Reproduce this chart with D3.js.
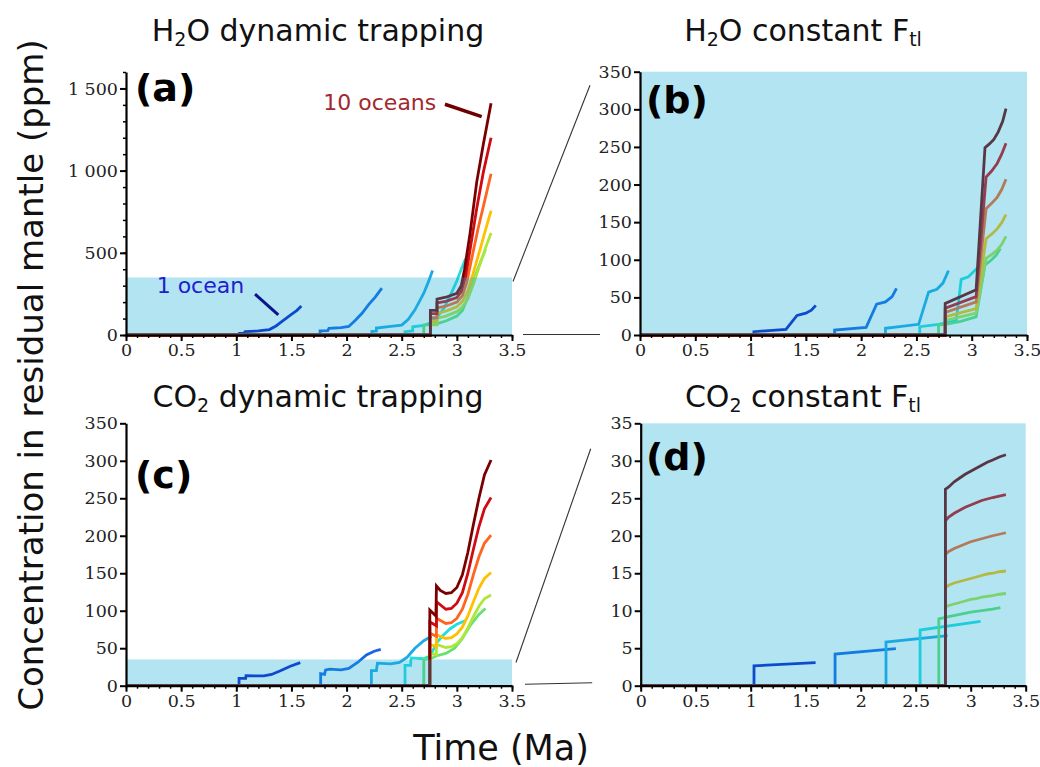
<!DOCTYPE html>
<html><head><meta charset="utf-8">
<script src="https://cdn.jsdelivr.net/npm/d3@7"></script>
<style>
body{margin:0;background:#fff;}
svg{display:block;}
</style></head><body>
<svg id="chart" width="1040" height="767"></svg>
<script>
// ---------------- DATA ----------------
const oceans = [1,2,3,4,5,6,7,8,9,10];
const xTicks = [0,0.5,1,1.5,2,2.5,3,3.5];
const yTicksH2ODyn = [0,500,1000,1500];
const yTicks350 = [0,50,100,150,200,250,300,350];
const yTicks35 = [0,5,10,15,20,25,30,35];
const zoomRangeH2O = 350;   // ppm range shown enlarged in (b)
const zoomRangeCO2 = 35;    // ppm range shown enlarged in (d)

// (a) H2O dynamic trapping: [time (Ma), ppm] per ocean count
const h2oDynamic = [
  [[0,0],[1.03,0],[1.03,10],[1.07,12],[1.08,20],[1.2,25],[1.3,33],[1.36,55],[1.43,90],[1.5,125],[1.55,150],[1.59,177]],
  [[0,0],[1.76,0],[1.76,25],[1.83,27],[1.84,40],[1.95,45],[2.02,52],[2.08,90],[2.14,132],[2.2,185],[2.26,230],[2.32,285]],
  [[0,0],[2.23,0],[2.23,22],[2.27,24],[2.27,42],[2.4,52],[2.5,60],[2.56,95],[2.62,153],[2.7,254],[2.74,320],[2.78,393]],
  [[0,0],[2.53,0],[2.53,20],[2.6,25],[2.6,50],[2.7,58],[2.76,75],[2.82,110],[2.88,160],[2.94,240],[3.0,330],[3.04,400],[3.08,465]],
  [[0,0],[2.70,0],[2.70,60],[2.8,65],[2.9,85],[3.0,115],[3.05,150],[3.1,230],[3.15,330],[3.2,420],[3.26,520]],
  [[0,0],[2.76,0],[2.76,62],[2.82,62],[2.82,102],[2.9,115],[3.0,142],[3.05,170],[3.1,220],[3.15,310],[3.21,430],[3.26,530],[3.31,621]],
  [[0,0],[2.76,0],[2.76,82],[2.82,82],[2.82,132],[2.9,145],[3.0,172],[3.05,205],[3.1,270],[3.15,380],[3.21,520],[3.26,640],[3.31,757]],
  [[0,0],[2.76,0],[2.76,105],[2.82,105],[2.82,165],[2.9,175],[3.0,200],[3.05,240],[3.09,320],[3.13,450],[3.19,640],[3.25,810],[3.31,981]],
  [[0,0],[2.76,0],[2.76,130],[2.82,130],[2.82,195],[2.9,205],[3.0,228],[3.04,265],[3.08,360],[3.12,520],[3.18,770],[3.24,990],[3.31,1200]],
  [[0,0],[2.76,0],[2.76,150],[2.82,150],[2.82,218],[2.9,230],[3.0,254],[3.04,300],[3.07,400],[3.12,620],[3.18,930],[3.24,1160],[3.31,1410]]
];

// (b) H2O constant F_tl
const h2oConstant = [
  [[0,0],[1.03,0],[1.03,4.4],[1.32,7.5],[1.42,26],[1.5,29],[1.55,33],[1.59,39.4]],
  [[0,0],[1.76,0],[1.76,6.6],[2.045,10.2],[2.14,41],[2.22,44],[2.28,51],[2.32,62]],
  [[0,0],[2.22,0],[2.22,8.9],[2.52,14.2],[2.61,57],[2.685,60.7],[2.74,69],[2.79,85.5]],
  [[0,0],[2.53,0],[2.53,11],[2.7,14],[2.86,19],[2.905,74],[2.97,77.5],[3.03,86],[3.08,93]],
  [[0,0],[2.70,0],[2.70,13],[2.76,14],[2.9,18],[3.04,24],[3.12,93],[3.18,100],[3.22,106],[3.26,115]],
  [[0,0],[2.76,0],[2.76,19],[3.04,29],[3.13,102],[3.18,107],[3.23,113],[3.27,120],[3.31,131]],
  [[0,0],[2.76,0],[2.76,24],[3.04,35],[3.13,128],[3.18,134],[3.23,141],[3.27,149],[3.31,160]],
  [[0,0],[2.76,0],[2.76,30],[3.04,44],[3.13,168],[3.18,175],[3.23,183],[3.27,193],[3.31,207]],
  [[0,0],[2.76,0],[2.76,35.5],[3.04,51],[3.13,210],[3.18,218],[3.23,228],[3.27,240],[3.31,255]],
  [[0,0],[2.76,0],[2.76,42],[3.04,60],[3.12,249],[3.16,254],[3.2,260],[3.24,270],[3.28,284],[3.31,301]]
];

// (c) CO2 dynamic trapping
const co2Dynamic = [
  [[0,0],[1.025,0],[1.025,9.8],[1.085,9.8],[1.088,13.4],[1.25,13],[1.32,15],[1.4,20],[1.49,26],[1.58,30.7]],
  [[0,0],[1.765,0],[1.765,16],[1.80,15],[1.81,21],[1.85,22],[1.95,21],[2.02,23],[2.1,31],[2.18,41],[2.25,46],[2.31,48.5]],
  [[0,0],[2.225,0],[2.225,20],[2.27,20],[2.28,30],[2.4,29],[2.48,31],[2.55,38],[2.62,50],[2.7,60],[2.77,66]],
  [[0,0],[2.53,0],[2.53,27],[2.58,27],[2.585,37],[2.7,36],[2.76,40],[2.82,58],[2.88,68],[2.94,76],[3.0,82],[3.08,87]],
  [[0,0],[2.70,0],[2.70,35],[2.76,36],[2.82,40],[2.9,43],[2.98,50],[3.05,63],[3.12,80],[3.2,95],[3.26,103]],
  [[0,0],[2.755,0],[2.755,43],[2.815,41],[2.815,55],[2.9,51],[2.95,52],[3.0,56],[3.05,64],[3.1,77],[3.15,92],[3.2,106],[3.25,116],[3.31,121]],
  [[0,0],[2.755,0],[2.755,55],[2.815,52],[2.815,68],[2.9,63],[2.95,64],[3.0,69],[3.05,78],[3.1,93],[3.15,112],[3.2,130],[3.25,143],[3.31,151]],
  [[0,0],[2.755,0],[2.755,70],[2.815,66],[2.815,90],[2.9,83],[2.95,84],[3.0,90],[3.05,102],[3.1,122],[3.15,148],[3.2,172],[3.25,190],[3.31,201]],
  [[0,0],[2.755,0],[2.755,85],[2.815,80],[2.815,112],[2.9,102],[2.95,103],[3.0,110],[3.05,124],[3.1,150],[3.15,182],[3.2,212],[3.25,236],[3.31,251]],
  [[0,0],[2.755,0],[2.755,101],[2.81,93],[2.815,133],[2.85,127],[2.9,123],[2.95,124],[3.0,131],[3.05,148],[3.1,178],[3.15,215],[3.2,250],[3.25,281],[3.31,301]]
];

// (d) CO2 constant F_tl
const co2Constant = [
  [[0,0],[1.03,0],[1.03,2.65],[1.59,3.07]],
  [[0,0],[1.767,0],[1.767,4.23],[2.32,4.94]],
  [[0,0],[2.23,0],[2.23,5.83],[2.79,6.67]],
  [[0,0],[2.54,0],[2.54,7.43],[3.09,8.59]],
  [[0,0],[2.71,0],[2.71,8.9],[2.8,9.2],[2.9,9.5],[3.0,9.8],[3.1,10.0],[3.2,10.2],[3.27,10.4]],
  [[0,0],[2.77,0],[2.77,10.5],[2.8,10.7],[2.85,10.9],[2.9,11.1],[2.95,11.3],[3.0,11.5],[3.05,11.6],[3.1,11.8],[3.15,11.9],[3.2,12.0],[3.26,12.2],[3.32,12.3]],
  [[0,0],[2.77,0],[2.77,13.1],[2.8,13.4],[2.85,13.7],[2.9,13.9],[2.95,14.1],[3.0,14.3],[3.05,14.5],[3.1,14.7],[3.15,14.9],[3.2,15.0],[3.26,15.2],[3.32,15.3]],
  [[0,0],[2.77,0],[2.77,17.5],[2.8,17.9],[2.85,18.3],[2.9,18.6],[2.95,18.9],[3.0,19.2],[3.05,19.4],[3.1,19.6],[3.15,19.8],[3.2,20.0],[3.26,20.2],[3.32,20.4]],
  [[0,0],[2.77,0],[2.77,22.0],[2.8,22.5],[2.85,23.0],[2.9,23.4],[2.95,23.8],[3.0,24.1],[3.05,24.4],[3.1,24.7],[3.15,24.9],[3.2,25.1],[3.26,25.3],[3.32,25.5]],
  [[0,0],[2.77,0],[2.77,26.2],[2.8,26.5],[2.85,27.2],[2.9,27.7],[2.95,28.2],[3.0,28.6],[3.05,29.0],[3.1,29.4],[3.15,29.8],[3.2,30.1],[3.26,30.5],[3.32,30.8]]
];

// ---------------- STYLE / LAYOUT ----------------
const seriesColors = ["#0c1ec8","#1666e6","#1eaae6","#22dede","#66e26e","#aee63c","#ffc000","#ff6420","#d00a12","#7a0000"];
const shadeColor = "rgb(20,170,215)", shadeOpacity = 0.32;
const sans = "'DejaVu Sans', Verdana, sans-serif";
const serif = "'DejaVu Serif', 'Liberation Serif', serif";

const fmtSpace = d3.formatLocale({decimal:".", thousands:" ", grouping:[3], currency:["",""]}).format(",");
const fmtPlain = d3.format("");

const panels = [
  {id:"a", data:h2oDynamic, yMax:1600, yTicks:yTicksH2ODyn, yMinor:d3.range(0,1601,100), fmt:fmtSpace,
   L:126, R:512, B:335, T:72, shade:zoomRangeH2O, label:"(a)", lx:135, ly:101,
   title:["H","2","O dynamic trapping"], tx:318, ty:41},
  {id:"b", data:h2oConstant, yMax:350, yTicks:yTicks350, yMinor:[], fmt:fmtPlain,
   L:640, R:1027, B:335, T:71.7, shade:350, label:"(b)", lx:646, ly:113,
   title:["H","2","O constant F","tl"], tx:803, ty:41},
  {id:"c", data:co2Dynamic, yMax:350, yTicks:yTicks350, yMinor:[], fmt:fmtPlain,
   L:126, R:512, B:685.7, T:423.3, shade:zoomRangeCO2, label:"(c)", lx:135, ly:488,
   title:["CO","2"," dynamic trapping"], tx:318, ty:407},
  {id:"d", data:co2Constant, yMax:35, yTicks:yTicks35, yMinor:[], fmt:fmtPlain,
   L:640.7, R:1025.7, B:685.7, T:423.3, shade:35, label:"(d)", lx:646, ly:470,
   title:["CO","2"," constant F","tl"], tx:803, ty:407}
];

const svg = d3.select("#chart");
const scales = {};

panels.forEach(p => {
  const x = d3.scaleLinear().domain([0,3.5]).range([p.L,p.R]);
  const y = d3.scaleLinear().domain([0,p.yMax]).range([p.B,p.T]);
  scales[p.id] = {x,y};
  const g = svg.append("g").attr("class","panel-"+p.id);

  // series lines
  const line = d3.line().x(d=>x(d[0])).y(d=>y(d[1]));
  g.selectAll("path.series").data(p.data).join("path")
    .attr("class","series")
    .attr("d", line)
    .attr("fill","none")
    .attr("stroke",(d,i)=>seriesColors[i])
    .attr("stroke-width",2.8);

  // translucent zoom-range shade on top of lines
  g.append("rect")
    .attr("x",x(0)).attr("width",x(3.5)-x(0))
    .attr("y",y(p.shade)).attr("height",y(0)-y(p.shade))
    .attr("fill",shadeColor).attr("fill-opacity",shadeOpacity);

  // minor ticks
  const xMinor = d3.range(0,3.501,0.1);
  g.append("g").attr("transform",`translate(0,${p.B})`)
    .call(d3.axisBottom(x).tickValues(xMinor).tickSize(3).tickFormat(""))
    .call(a=>a.select(".domain").remove())
    .call(a=>a.selectAll("line").attr("stroke","#000").attr("stroke-width",1.5));
  if (p.yMinor.length) {
    g.append("g").attr("transform",`translate(${p.L},0)`)
      .call(d3.axisLeft(y).tickValues(p.yMinor).tickSize(3).tickFormat(""))
      .call(a=>a.select(".domain").remove())
      .call(a=>a.selectAll("line").attr("stroke","#000").attr("stroke-width",1.5));
  }

  // major axes
  const ax = g.append("g").attr("transform",`translate(0,${p.B})`)
    .call(d3.axisBottom(x).tickValues(xTicks).tickSize(6).tickSizeOuter(0).tickPadding(3).tickFormat(fmtPlain));
  const ay = g.append("g").attr("transform",`translate(${p.L},0)`)
    .call(d3.axisLeft(y).tickValues(p.yTicks).tickSize(6).tickSizeOuter(0).tickPadding(2).tickFormat(p.fmt));
  [ax,ay].forEach(a=>{
    a.select(".domain").attr("stroke","#000").attr("stroke-width",2.2);
    a.selectAll(".tick line").attr("stroke","#000").attr("stroke-width",2);
    a.selectAll(".tick text").attr("font-family",serif).attr("font-size",17.5).attr("fill","#222");
  });

  // panel letter
  svg.append("text").attr("x",p.lx).attr("y",p.ly)
    .attr("font-family",sans).attr("font-weight","bold").attr("font-size",38).attr("fill","#000")
    .text(p.label);

  // title with subscripts
  const t = svg.append("text").attr("x",p.tx).attr("y",p.ty).attr("text-anchor","middle")
    .attr("font-family",sans).attr("font-size",30).attr("fill","#111");
  p.title.forEach((s,i)=>{
    const ts = t.append("tspan").text(s);
    if (i%2===1) ts.attr("font-size",19).attr("dy",5);
    else if (i>0) ts.attr("dy",-5);
  });
});

// zoom connector lines
const A = scales.a, Bs = scales.b, C = scales.c, D = scales.d;
const conn = [
  [A.x(3.5)+1, A.y(zoomRangeH2O)+4, Bs.x(0)-50, Bs.y(332)],
  [A.x(3.5)+11, A.y(0)-0.5, Bs.x(0)-40, Bs.y(0)-0.5],
  [C.x(3.5)+4, C.y(zoomRangeCO2)+3, D.x(0)-50, D.y(31.6)],
  [C.x(3.5)+13, C.y(0)-1.5, D.x(0)-48.5, D.y(0)-3]
];
svg.selectAll("line.conn").data(conn).join("line").attr("class","conn")
  .attr("x1",d=>d[0]).attr("y1",d=>d[1]).attr("x2",d=>d[2]).attr("y2",d=>d[3])
  .attr("stroke","#333").attr("stroke-width",1.1);

// annotations in (a)
svg.append("text").attr("x",A.x(0.278)).attr("y",A.y(255))
  .attr("font-family",sans).attr("font-size",22).attr("fill","#2020d0").text(oceans[0]+" ocean");
svg.append("line").attr("x1",A.x(1.17)).attr("y1",A.y(248)).attr("x2",A.x(1.381)).attr("y2",A.y(122))
  .attr("stroke","#0a148c").attr("stroke-width",3);
svg.append("text").attr("x",A.x(1.789)).attr("y",A.y(1369))
  .attr("font-family",sans).attr("font-size",22).attr("fill","#a3282d").text(oceans[9]+" oceans");
svg.append("line").attr("x1",A.x(2.892)).attr("y1",A.y(1404)).attr("x2",A.x(3.225)).attr("y2",A.y(1329))
  .attr("stroke","#700000").attr("stroke-width",3.5);

// shared axis titles
svg.append("text").attr("transform","translate(43,375) rotate(-90)").attr("text-anchor","middle")
  .attr("font-family",sans).attr("font-size",34).attr("fill","#111")
  .text("Concentration in residual mantle (ppm)");
svg.append("text").attr("x",501).attr("y",760).attr("text-anchor","middle")
  .attr("font-family",sans).attr("font-size",35).attr("fill","#111")
  .text("Time (Ma)");
</script>
</body></html>
